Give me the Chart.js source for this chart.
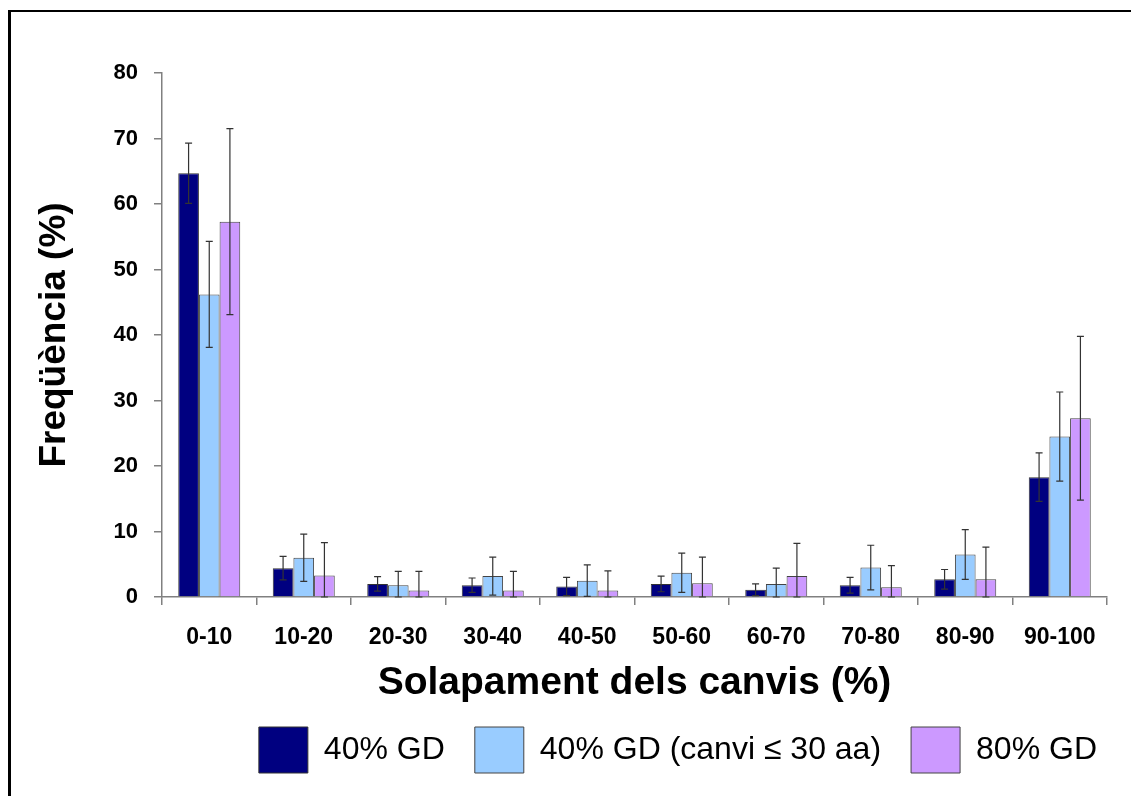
<!DOCTYPE html>
<html>
<head>
<meta charset="utf-8">
<title>Solapament dels canvis</title>
<script src="https://cdn.jsdelivr.net/npm/chart.js@4.4.1/dist/chart.umd.min.js"></script>
<style>
  body { margin: 0; background: #fff; }
  #wrap { position: relative; width: 1131px; height: 796px; }
  #frame { position: absolute; left: 8px; top: 10px; right: -10px; bottom: -10px;
           border-left: 3px solid #000; border-top: 2px solid #000; pointer-events: none; }
</style>
</head>
<body>
<div id="wrap">
  <canvas id="mycanvas" width="1131" height="796"></canvas>
  <div id="frame"></div>
</div>
<script>
var categories = ['0-10', '10-20', '20-30', '30-40', '40-50', '50-60', '60-70', '70-80', '80-90', '90-100'];
var yTicks = [0, 10, 20, 30, 40, 50, 60, 70, 80];

var gd40 = [64.7, 4.4, 2.0, 1.8, 1.6, 2.0, 1.1, 1.8, 2.7, 18.3];
var gd40Err = [4.6, 1.8, 1.1, 1.1, 1.4, 1.2, 0.9, 1.2, 1.5, 3.7];
var gd40c = [46.2, 6.0, 1.8, 3.2, 2.5, 3.7, 2.0, 4.5, 6.5, 24.5];
var gd40cErr = [8.1, 3.6, 2.1, 2.9, 2.4, 3.0, 2.4, 3.4, 3.8, 6.8];
var gd80 = [57.3, 3.3, 1.0, 1.0, 1.0, 2.1, 3.2, 1.5, 2.7, 27.3];
var gd80Err = [14.2, 5.0, 2.9, 2.9, 3.0, 4.0, 5.0, 3.3, 4.9, 12.5];

var FONT = "'Liberation Sans', Arial, sans-serif";

// draws the error bars on top of each bar
var errorBars = {
  id: 'errorBars',
  afterDatasetsDraw: function(chart) {
    var ctx = chart.ctx;
    var y = chart.scales.y;
    ctx.save();
    ctx.strokeStyle = '#333';
    ctx.lineWidth = 1.2;
    chart.data.datasets.forEach(function(ds, di) {
      var meta = chart.getDatasetMeta(di);
      meta.data.forEach(function(bar, i) {
        var v = ds.data[i], e = ds.errors[i];
        var top = y.getPixelForValue(v + e);
        var bot = y.getPixelForValue(Math.max(v - e, 0));
        ctx.beginPath();
        ctx.moveTo(bar.x, top); ctx.lineTo(bar.x, bot);
        ctx.moveTo(bar.x - 3.5, top); ctx.lineTo(bar.x + 3.5, top);
        ctx.moveTo(bar.x - 3.5, bot); ctx.lineTo(bar.x + 3.5, bot);
        ctx.stroke();
      });
    });
    ctx.restore();
  }
};

var chartdata = {
  labels: categories,
  datasets: [
    { label: '40% GD', data: gd40, errors: gd40Err,
      backgroundColor: '#000080', borderColor: '#333', borderWidth: 1 },
    { label: '40% GD (canvi \u2264 30 aa)', data: gd40c, errors: gd40cErr,
      backgroundColor: '#99CCFF', borderColor: '#444', borderWidth: 1 },
    { label: '80% GD', data: gd80, errors: gd80Err,
      backgroundColor: '#CC99FF', borderColor: '#444', borderWidth: 1 }
  ]
};

var ctx = document.getElementById('mycanvas');

var myBarChart = new Chart(ctx, {
  type: 'bar',
  data: chartdata,
  plugins: [errorBars],
  options: {
    responsive: false,
    animation: false,
    layout: { padding: { left: 0, right: 4, top: 73, bottom: 13 } },
    datasets: { bar: { categoryPercentage: 0.656, barPercentage: 1 } },
    plugins: {
      tooltip: { enabled: false },
      legend: {
        position: 'bottom',
        align: 'end',
        labels: {
          boxWidth: 49, boxHeight: 46, padding: 30,
          color: '#000',
          font: { family: FONT, size: 32 }
        }
      }
    },
    scales: {
      x: {
        grid: { display: true, drawOnChartArea: false, tickLength: 8, color: '#808080', lineWidth: 1.5 },
        border: { display: true, color: '#808080', width: 1.5 },
        ticks: { color: '#000', padding: 19, font: { family: FONT, size: 23, weight: 'bold' } },
        title: { display: true, text: 'Solapament dels canvis (%)', color: '#000',
                 padding: { top: 0, bottom: -6 },
                 font: { family: FONT, size: 39, weight: 'bold', lineHeight: 1 } },
        afterFit: function(scale) { scale.height = 100; }
      },
      y: {
        min: 0, max: 80,
        afterBuildTicks: function(scale) {
          scale.ticks = yTicks.map(function(v) { return { value: v }; });
        },
        grid: { display: true, drawOnChartArea: false, tickLength: 8, color: '#808080', lineWidth: 1.5 },
        border: { display: true, color: '#808080', width: 1.5 },
        ticks: { color: '#000', padding: 16, font: { family: FONT, size: 22, weight: 'bold' } },
        title: { display: true, text: 'Freqüència (%)', color: '#000',
                 padding: { top: 33, bottom: 0 },
                 font: { family: FONT, size: 37, weight: 'bold', lineHeight: 1.2 } },
        afterFit: function(scale) { scale.width = 162; }
      },
      y2: {
        position: 'right',
        display: true,
        grid: { display: false, drawTicks: false },
        border: { display: false },
        ticks: { display: false },
        afterFit: function(scale) { scale.width = 20; }
      }
    }
  }
});
</script>
</body>
</html>
